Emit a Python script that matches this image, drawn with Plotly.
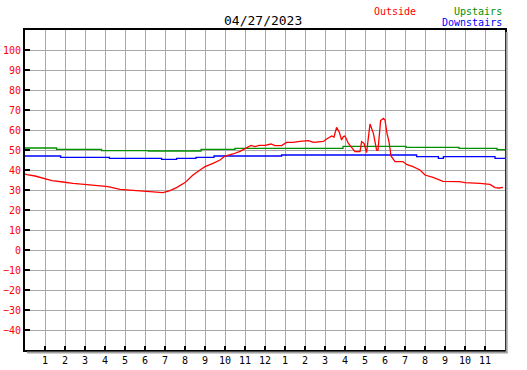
import plotly.graph_objects as go

# ---- data (hours since midnight, temperature) ----
outside_h = [0.0, 0.1, 0.5, 0.75, 1.0, 1.35, 1.9, 2.4, 3.1, 3.75, 4.15, 4.75, 5.1, 5.6, 6.15, 6.5, 6.9,
             7.25, 7.6, 8.0, 8.4, 8.75, 9.0, 9.4, 9.75, 10.0, 10.4, 10.75, 11.0, 11.3, 11.5, 11.7,
             12.0, 12.3, 12.5, 12.83, 13.08, 13.4, 13.75, 14.17, 14.42, 14.92, 15.08, 15.33, 15.45,
             15.58, 15.72, 15.83, 15.92, 16.0, 16.17, 16.42, 16.5, 16.75, 16.83, 16.95, 17.08, 17.25,
             17.42, 17.58, 17.65, 17.78, 17.92, 18.0, 18.1, 18.2, 18.3, 18.5, 18.9, 19.08, 19.4,
             19.75, 20.0, 20.4, 20.9, 21.7, 22.0, 22.75, 23.25, 23.5, 23.7, 23.9]
outside_t = [38.0, 37.7, 37.0, 36.3, 35.5, 34.7, 34.0, 33.3, 32.7, 32.0, 31.7, 30.3, 30.0, 29.7, 29.0, 29.0, 28.7,
             29.7, 31.3, 33.7, 37.5, 40.0, 41.7, 43.3, 45.0, 47.0, 48.0, 49.3, 50.8, 52.3, 51.7, 52.3,
             52.3, 53.0, 52.2, 52.2, 53.8, 53.8, 54.3, 54.7, 53.8, 54.3, 55.5, 57.0, 56.5,
             61.3, 58.8, 55.0, 56.7, 57.0, 53.3, 50.0, 49.2, 49.2, 54.2, 53.3, 48.7, 63.0,
             58.3, 50.0, 50.0, 64.7, 65.8, 65.0, 58.3, 54.2, 47.0, 44.2, 44.2, 42.8, 41.7,
             40.0, 37.5, 36.3, 34.3, 34.2, 33.7, 33.3, 32.8, 31.2, 31.0, 31.3]

upstairs_h = [0.0, 1.58, 3.83, 6.17, 8.8, 10.5, 15.9, 19.05, 21.7, 23.6, 24.0]
upstairs_t = [51.0, 50.3, 49.7, 49.5, 50.3, 50.8, 51.8, 51.3, 50.8, 50.2, 50.2]

downstairs_h = [0.0, 1.78, 4.22, 6.83, 7.58, 8.55, 9.45, 12.83, 19.58, 20.67, 20.92, 23.5, 24.0]
downstairs_t = [47.0, 46.3, 45.8, 45.3, 45.8, 46.3, 47.0, 47.5, 46.7, 45.8, 46.7, 45.8, 45.8]

x_tickvals = list(range(1, 24))
x_ticktext = [str(v) for v in list(range(1, 13)) + list(range(1, 12))]
y_tickvals = list(range(-40, 101, 10))

title_text = "04/27/2023"

FONT = "DejaVu Sans Mono"

fig = go.Figure()
fig.add_trace(go.Scatter(x=upstairs_h, y=upstairs_t, mode="lines", line=dict(color="#009000", width=1.3, shape="hv"),
                         name="Upstairs", hoverinfo="skip"))
fig.add_trace(go.Scatter(x=downstairs_h, y=downstairs_t, mode="lines", line=dict(color="#0000ff", width=1.3, shape="hv"),
                         name="Downstairs", hoverinfo="skip"))
fig.add_trace(go.Scatter(x=outside_h, y=outside_t, mode="lines", line=dict(color="#ff0000", width=1.3),
                         name="Outside", hoverinfo="skip"))

fig.update_layout(
    width=527, height=370, autosize=False,
    margin=dict(l=25, r=22, t=30, b=20, autoexpand=False),
    paper_bgcolor="white", plot_bgcolor="white",
    showlegend=False,
    font=dict(family=FONT, size=10, color="black"),
    xaxis=dict(range=[0, 24], tickvals=x_tickvals, ticktext=x_ticktext, automargin=False,
               showgrid=True, gridcolor="#a8a8a8", gridwidth=1.3,
               showline=True, linecolor="black", linewidth=2, mirror=True,
               ticks="inside", ticklen=4, tickcolor="black", tickwidth=1.5,
               tickfont=dict(family=FONT, size=10, color="black"), zeroline=False, fixedrange=True),
    yaxis=dict(range=[-50, 110], tickvals=y_tickvals, automargin=False,
               showgrid=True, gridcolor="#a8a8a8", gridwidth=1.3,
               showline=True, linecolor="black", linewidth=2, mirror=True,
               ticks="inside", ticklen=5, tickcolor="black", tickwidth=1.5,
               tickfont=dict(family=FONT, size=10, color="red"), zeroline=False, fixedrange=True),
    shapes=[
        dict(type="line", xref="paper", yref="paper", x0=1.0035, x1=1.0035, y0=-0.009, y1=0.994,
             line=dict(color="#a0a0a0", width=2)),
        dict(type="line", xref="paper", yref="paper", x0=0.004, x1=1.0055, y0=-0.0075, y1=-0.0075,
             line=dict(color="#a0a0a0", width=2)),
    ],
    annotations=[
        dict(text=title_text, xref="paper", yref="paper", x=0.495, y=1.031, xanchor="center", yanchor="middle",
             showarrow=False, font=dict(family=FONT, size=13, color="black")),
        dict(text="Outside", xref="paper", yref="paper", x=0.7229, y=1.059, xanchor="left", yanchor="middle",
             showarrow=False, font=dict(family=FONT, size=10, color="red")),
        dict(text="Upstairs", xref="paper", yref="paper", x=0.998, y=1.059, xanchor="right", yanchor="middle",
             showarrow=False, font=dict(family=FONT, size=10, color="#009000")),
        dict(text="Downstairs", xref="paper", yref="paper", x=0.998, y=1.022, xanchor="right", yanchor="middle",
             showarrow=False, font=dict(family=FONT, size=10, color="blue")),
    ],
)

fig.write_html("out.html", config={"displayModeBar": False},
               post_script="document.body.style.margin='0';document.body.style.overflow='hidden';")
